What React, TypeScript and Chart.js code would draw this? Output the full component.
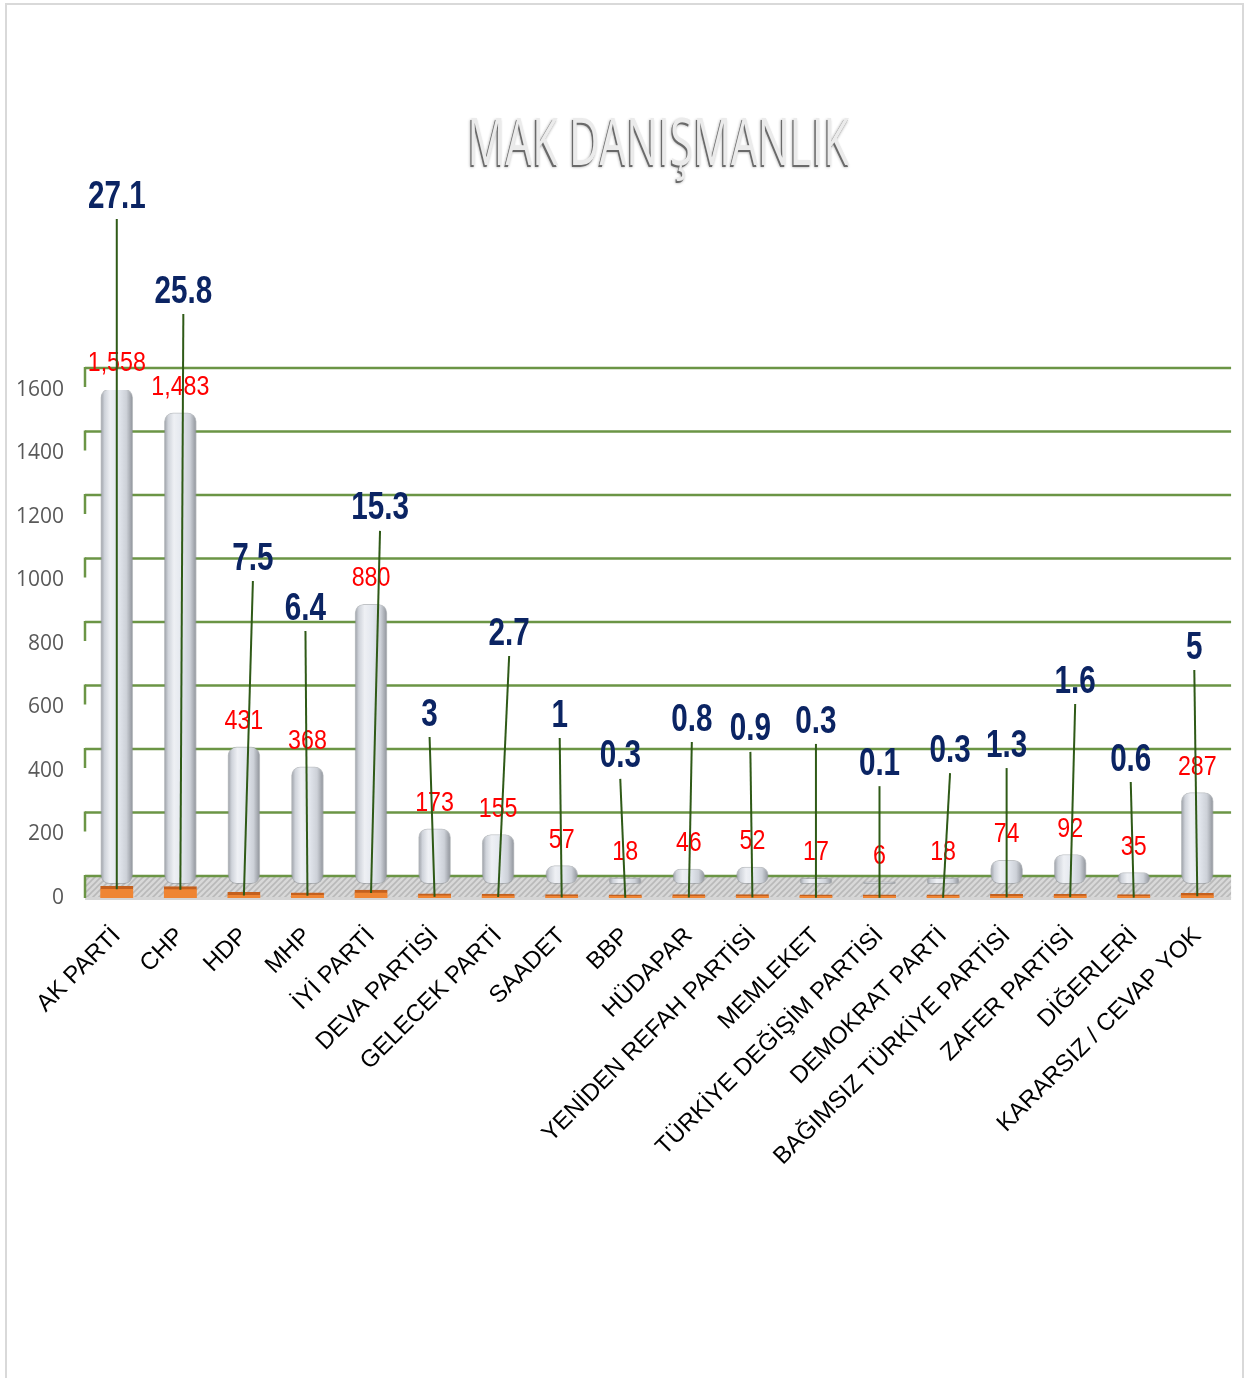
import React, { useEffect, useRef } from "react";
import { Chart, registerables } from "chart.js";

Chart.register(...registerables);

const categories = [
  "AK PARTİ", "CHP", "HDP", "MHP", "İYİ PARTİ", "DEVA PARTİSİ", "GELECEK PARTİ",
  "SAADET", "BBP", "HÜDAPAR", "YENİDEN REFAH PARTİSİ", "MEMLEKET",
  "TÜRKİYE DEĞİŞİM PARTİSİ", "DEMOKRAT PARTİ", "BAĞIMSIZ TÜRKİYE PARTİSİ",
  "ZAFER PARTİSİ", "DİĞERLERİ", "KARARSIZ / CEVAP YOK",
];
const votes = [1558, 1483, 431, 368, 880, 173, 155, 57, 18, 46, 52, 17, 6, 18, 74, 92, 35, 287];
const percents = [27.1, 25.8, 7.5, 6.4, 15.3, 3, 2.7, 1, 0.3, 0.8, 0.9, 0.3, 0.1, 0.3, 1.3, 1.6, 0.6, 5];
const yTickValues = [0, 200, 400, 600, 800, 1000, 1200, 1400, 1600];
const title = "MAK DANIŞMANLIK";

// label placement (manually dragged labels in the original), in y-axis units / px offsets
const pctLabelLevel = [2217, 1918, 1077, 920, 1235, 586, 841, 583, 454, 570, 539, 564, 431, 472, 488, 690, 444, 797];
const pctLabelDx = [0, 3, 9, -2, 9, -5, 11, -2, -5, 3, -2, 0, 0, 7, 0, 5, -3, -3];

const BACK = 22; // depth of 3D back wall in px

function drawScaledText(ctx: CanvasRenderingContext2D, text: string, x: number, yCenter: number, size: number, weight: string, family: string, color: string, sx: number) {
  ctx.save();
  ctx.translate(x, yCenter + size * 0.358);
  ctx.scale(sx, 1);
  ctx.font = `${weight} ${size}px ${family}`;
  ctx.fillStyle = color;
  ctx.textAlign = "center";
  ctx.textBaseline = "alphabetic";
  ctx.fillText(text, 0, 0);
  ctx.restore();
}

const decoPlugin = {
  id: "deco",
  beforeDatasetsDraw(chart: any) {
    const { ctx, chartArea, scales } = chart;
    const { left, right, bottom } = chartArea;
    const y = scales.y;
    const y0 = y.getPixelForValue(0);
    const backY = y0 - BACK;
    const pc = document.createElement("canvas");
    pc.width = 6; pc.height = 6;
    const p = pc.getContext("2d")!;
    p.fillStyle = "#d8d8d8";
    p.fillRect(0, 0, 6, 6);
    p.strokeStyle = "#b9b9b9";
    p.lineWidth = 1.6;
    p.beginPath();
    p.moveTo(-1, 7); p.lineTo(7, -1);
    p.moveTo(-4, 4); p.lineTo(4, -4);
    p.moveTo(2, 10); p.lineTo(10, 2);
    p.stroke();
    const pat = ctx.createPattern(pc, "repeat");
    ctx.save();
    ctx.fillStyle = pat;
    ctx.fillRect(left, backY, right + 2 - left, bottom - backY);
    ctx.fillStyle = "#d4d4d4";
    ctx.fillRect(left, bottom - 1, right + 2 - left, 3);
    ctx.strokeStyle = "#6b9545";
    ctx.lineWidth = 2.5;
    for (const v of yTickValues) {
      const yy = y.getPixelForValue(v) - BACK;
      ctx.beginPath();
      ctx.moveTo(left, yy);
      ctx.lineTo(right + 2, yy);
      ctx.stroke();
      ctx.beginPath();
      ctx.moveTo(left, yy - 1);
      ctx.lineTo(left, v === 0 ? bottom : yy + BACK - 3);
      ctx.stroke();
    }
    ctx.restore();
  },
  afterDatasetsDraw(chart: any) {
    const { ctx, scales } = chart;
    const y = scales.y;
    const voteMeta = chart.getDatasetMeta(0);
    const pctMeta = chart.getDatasetMeta(1);
    ctx.save();
    voteMeta.data.forEach((el: any, i: number) => {
      drawScaledText(ctx, votes[i].toLocaleString("en-US"), el.x, el.y - 28, 28, "normal", "'Liberation Sans', Arial, sans-serif", "#ff0000", 0.83);
    });
    ctx.strokeStyle = "#2f5a17";
    ctx.lineWidth = 2;
    pctMeta.data.forEach((el: any, i: number) => {
      const lx = el.x + pctLabelDx[i];
      const ly = y.getPixelForValue(pctLabelLevel[i]);
      ctx.beginPath();
      ctx.moveTo(lx, ly + 25);
      ctx.lineTo(el.x, el.y + 3);
      ctx.stroke();
    });
    pctMeta.data.forEach((el: any, i: number) => {
      const lx = el.x + pctLabelDx[i];
      const ly = y.getPixelForValue(pctLabelLevel[i]);
      drawScaledText(ctx, String(percents[i]), lx, ly, 38, "bold", "'Liberation Sans', Arial, sans-serif", "#0b2463", 0.78);
    });
    ctx.restore();
  },
  afterDraw(chart: any) {
    const { ctx, chartArea } = chart;
    const cx = (chartArea.left + chartArea.right) / 2 + 1;
    const by = 160;
    ctx.save();
    ctx.translate(cx, by);
    ctx.scale(0.64, 1);
    ctx.font = "normal 66px 'Open Sans', sans-serif";
    ctx.textAlign = "center";
    ctx.textBaseline = "alphabetic";
    ctx.fillStyle = "#6a6a6a";
    ctx.shadowColor = "rgba(0,0,0,0.4)";
    ctx.shadowBlur = 3;
    ctx.fillText(title, -1.5, 1.5);
    ctx.shadowColor = "transparent";
    ctx.fillStyle = "#ebebeb";
    ctx.fillText(title, 0.5, -0.5);
    ctx.restore();
  },
};

function cylinderFill(c: any) {
  const chart = c.chart;
  if (c.dataIndex === undefined || !chart.scales || !chart.scales.x) return "#dde1e8";
  const x = chart.scales.x.getPixelForValue(c.dataIndex);
  if (!Number.isFinite(x)) return "#dde1e8";
  const g = chart.ctx.createLinearGradient(x - 16, 0, x + 16, 0);
  g.addColorStop(0, "#9a9ea5");
  g.addColorStop(0.12, "#cfd3da");
  g.addColorStop(0.3, "#eef0f4");
  g.addColorStop(0.55, "#e3e7ee");
  g.addColorStop(0.8, "#cdd1d8");
  g.addColorStop(1, "#8e9299");
  return g;
}

export default function App() {
  const ref = useRef<HTMLCanvasElement>(null);
  useEffect(() => {
    const canvas = ref.current!;
    const chart = new Chart(canvas, {
      type: "bar",
      data: {
        labels: categories,
        datasets: [
          {
            label: "Oy",
            data: votes,
            yAxisID: "yv",
            order: 2,
            grouped: false,
            barThickness: 32,
            borderRadius: 9,
            borderSkipped: false,
            borderWidth: 1,
            borderColor: "rgba(140,145,152,0.55)",
            backgroundColor: cylinderFill,
          } as any,
          {
            label: "%",
            data: percents,
            yAxisID: "yp",
            base: -10,
            order: 1,
            grouped: false,
            barThickness: 33,
            backgroundColor: "#ef8533",
            borderColor: "#c4601e",
            borderWidth: { top: 3, left: 0, right: 0, bottom: 0 },
            borderSkipped: false,
          } as any,
        ],
      },
      options: {
        responsive: false,
        animation: false,
        events: [],
        layout: { padding: { top: 385, right: 12, left: 0, bottom: 0 } },
        plugins: { legend: { display: false }, title: { display: false }, tooltip: { enabled: false } },
        scales: {
          x: {
            grid: { display: false, drawTicks: false },
            border: { display: false },
            ticks: {
              autoSkip: false,
              minRotation: 45,
              maxRotation: 45,
              padding: 24,
              color: "#000000",
              font: { family: "'Liberation Sans', Arial, sans-serif", size: 24 },
            },
            afterFit: (s: any) => { s.height = 477; },
          },
          y: {
            min: 0,
            max: 1600,
            grid: { display: false, drawTicks: false },
            border: { display: false },
            afterBuildTicks: (s: any) => { s.ticks = yTickValues.map((v) => ({ value: v })); },
            ticks: {
              padding: 21,
              color: "#595959",
              font: { family: "'Open Sans', sans-serif", size: 21 },
              callback: (v: any) => String(v),
            },
            afterFit: (s: any) => { s.width = 78; },
          },
          yv: {
            display: false,
            min: -45,
            max: 1555,
          },
          yp: {
            display: false,
            min: -10,
            max: 1590,
          },
        },
      },
      plugins: [decoPlugin],
    });
    chart.update();
    return () => chart.destroy();
  }, []);
  return (
    <div
      style={{
        position: "absolute",
        left: 5,
        top: 3,
        width: 1235,
        height: 1373,
        borderLeft: "2px solid #d9d9d9",
        borderTop: "2px solid #d9d9d9",
        borderRight: "2px solid #d9d9d9",
        overflow: "hidden",
        background: "#fff",
      }}
    >
      <canvas ref={ref} width={1235} height={1370} style={{ display: "block", width: 1235, height: 1370 }} />
    </div>
  );
}
